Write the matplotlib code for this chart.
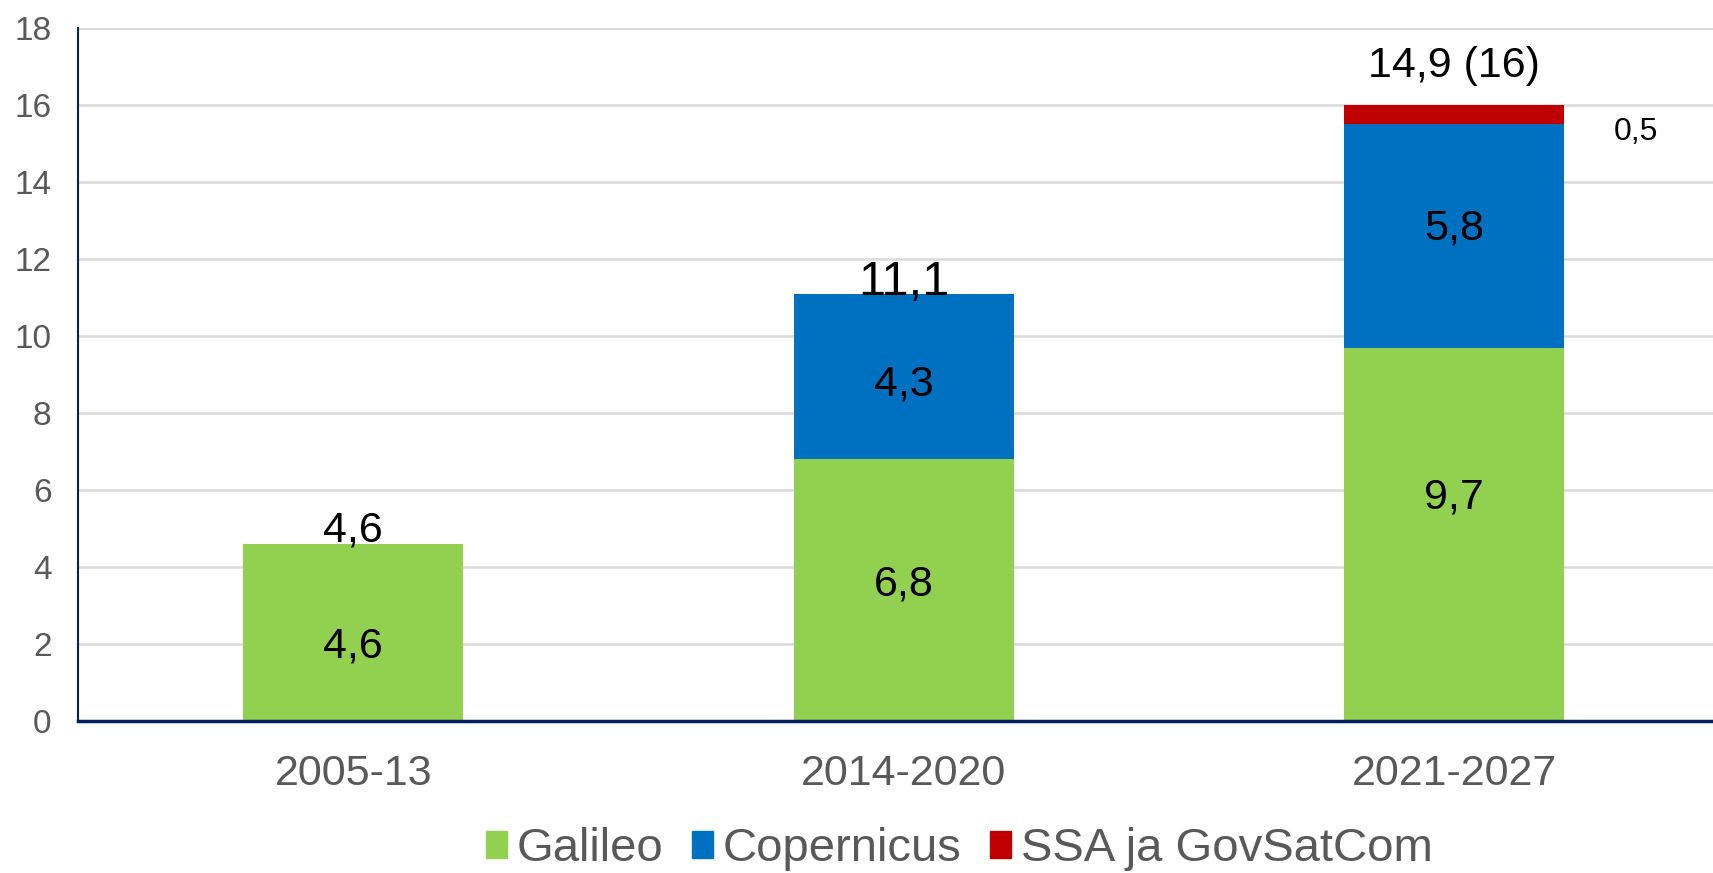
import numpy as np
import matplotlib.pyplot as plt
from matplotlib.patches import Patch
from matplotlib import font_manager

periods = ['2005-13', '2014-2020', '2021-2027']
galileo = [4.6, 6.8, 9.7]
copernicus = [0.0, 4.3, 5.8]
ssa = [0.0, 0.0, 0.5]
totals = ['4,6', '11,1', '14,9 (16)']

names = ['Galileo', 'Copernicus', 'SSA ja GovSatCom']
colors = ['#92D050', '#0070C0', '#C00000']

fam = ['Liberation Sans', 'DejaVu Sans']
installed = {f.name for f in font_manager.fontManager.ttflist}
legend_fam = [f for f in ['Liberation Sans Narrow'] if f in installed] + fam

fig = plt.figure(figsize=(17.13, 8.73), dpi=100)
ax = fig.add_axes([0.0455, 0.174, 0.9545, 0.794])

x = np.arange(len(periods))
w = 0.4
g = np.array(galileo)
c = np.array(copernicus)
s = np.array(ssa)
ax.bar(x, g, w, color=colors[0], zorder=2)
ax.bar(x, c, w, bottom=g, color=colors[1], zorder=2)
ax.bar(x, s, w, bottom=g + c, color=colors[2], zorder=2)

def fmt(v):
    return ('%.1f' % v).replace('.', ',')

# segment labels (hand nudged like in the original)
g_off = [-0.37, 0.15, 0.95]
c_off = [0, -0.22, 0.2]
for i in range(len(x)):
    ax.text(x[i], g[i] / 2 + g_off[i], fmt(g[i]), ha='center', va='center',
            fontsize=31, family=fam, zorder=3)
    if c[i] > 0:
        ax.text(x[i], g[i] + c[i] / 2 + c_off[i], fmt(c[i]), ha='center', va='center',
                fontsize=31, family=fam, zorder=3)
    if s[i] > 0:
        ax.text(x[i] + 0.33, g[i] + c[i] + s[i] / 2 - 0.45, fmt(s[i]), ha='center', va='center',
                fontsize=23, family=fam, zorder=3)

# totals
tops = g + c + s
tot_sizes = [31, 35, 31]
tot_off = [0.35, 0.3, 1.0]
for i in range(len(x)):
    ax.text(x[i], tops[i] + tot_off[i], totals[i], ha='center', va='center',
            fontsize=tot_sizes[i], family=fam, zorder=3)

ax.set_xlim(-0.5, 2.47)
ax.set_ylim(0, 18)
ax.set_yticks(np.arange(0, 19, 2))
ax.set_xticks(x)
ax.set_xticklabels(periods)
ax.tick_params(axis='both', length=0, colors='#595959')
ax.tick_params(axis='y', labelsize=24, pad=19)
ax.tick_params(axis='x', labelsize=31, pad=24)
for lab in ax.get_xticklabels() + ax.get_yticklabels():
    lab.set_family(fam)

ax.grid(axis='y', color='#d9d9d9', linewidth=1.8, zorder=0)
for side in ['top', 'right']:
    ax.spines[side].set_visible(False)
ax.spines['left'].set_color('#002060')
ax.spines['left'].set_linewidth(1.5)
ax.spines['bottom'].set_color('#002060')
ax.spines['bottom'].set_linewidth(2.5)
ax.spines['bottom'].set_zorder(4)

handles = [Patch(color=col, label=n) for col, n in zip(colors, names)]
leg = fig.legend(handles=handles, loc='center', bbox_to_anchor=(0.56, 0.027), ncol=3,
                 frameon=False, handlelength=0.45, handleheight=0.5, handletextpad=0.2,
                 columnspacing=0.6, prop={'family': legend_fam, 'size': 34})
for t in leg.get_texts():
    t.set_color('#595959')

fig.savefig('out.png', dpi=100)
